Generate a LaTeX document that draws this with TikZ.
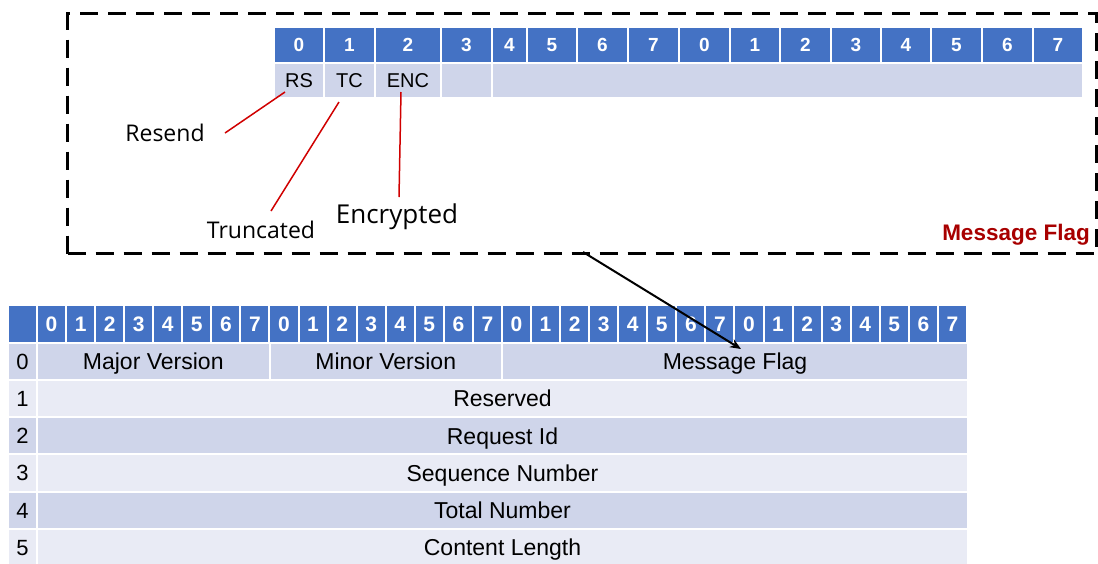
\documentclass[tikz,border=0pt]{standalone}
\usepackage{fontspec}
\setmainfont{Liberation Sans}
\newfontfamily\notefont{Open Sans}
\usetikzlibrary{arrows.meta}

\definecolor{hdrblue}{HTML}{4472C4}
\definecolor{rowdark}{HTML}{CFD5EA}
\definecolor{rowlight}{HTML}{E9EBF5}
\definecolor{pinred}{HTML}{D00000}
\definecolor{titlered}{HTML}{A80000}

% cells keep the capitals centred: text height = cap height of the cell font
\tikzset{
  cell/.style={draw=white, line width=2pt, anchor=north west,
               inner sep=0pt, outer sep=0pt, text=black, text depth=0pt},
  tophead/.style={cell, fill=hdrblue, text=white, text height=13.6pt,
                  font=\bfseries\fontsize{19}{22}\selectfont},
  topbit/.style={cell, fill=rowdark, text height=14.3pt,
                 font=\fontsize{20}{23}\selectfont},
  bothead/.style={cell, fill=hdrblue, text=white, text height=15pt,
                  font=\bfseries\fontsize{21}{24}\selectfont},
  rowidx/.style={cell, text height=15.8pt, font=\fontsize{22}{25}\selectfont},
  field/.style={cell, text height=16.5pt, font=\fontsize{23}{27}\selectfont},
  note/.style={inner sep=0pt, font=\notefont\fontsize{#1}{#1}\selectfont},
  pin/.style={draw=pinred, line width=1.5pt},
  flagframe/.style={draw=black, line width=3pt, dash pattern=on 18pt off 10pt,
                    anchor=north west, inner sep=0pt},
  zoomarrow/.style={draw=black, line width=2pt,
                    -{Stealth[length=11pt,width=9pt]}},
}

\begin{document}
\begin{tikzpicture}[x=1pt,y=-1pt]
\useasboundingbox (0,0) rectangle (1098,563);

% ---------- Message Flag detail ----------
\node[flagframe, minimum width=1029pt, minimum height=240pt] (flagbox) at (66,12) {};
\node[anchor=east, inner sep=0pt, text=titlered,
      font=\bfseries\fontsize{22.5}{26}\selectfont] (flagtitle) at (1090,235) {Message Flag};

% bit numbers of the flag field
\foreach \xa/\xb/\lab [count=\i from 0] in
  {274/324/0,324/375/1,375/441/2,441/492/3,492/527/4,527/577/5,577/628/6,628/679/7,
   679/730/0,730/780/1,780/831/2,831/881/3,881/931/4,931/982/5,982/1033/6,1033/1083/7}
{
  \pgfmathsetmacro\w{\xb-\xa}
  \node[tophead, minimum width=\w pt, minimum height=35.5pt] (th\i) at (\xa,27) {\lab};
}

% flag bits
\node[topbit, minimum width=50pt, minimum height=35.5pt] (rs)  at (274,62.5) {RS};
\node[topbit, minimum width=51pt, minimum height=35.5pt] (tc)  at (324,62.5) {TC};
\node[topbit, minimum width=66pt, minimum height=35.5pt] (enc) at (375,62.5) {ENC};
\node[topbit, minimum width=51pt, minimum height=35.5pt] (bit3) at (441,62.5) {};
\node[topbit, minimum width=591pt, minimum height=35.5pt] (bitrest) at (492,62.5) {};

% bit descriptions
\node[note=23] (resend)    at (165,133) {Resend};
\node[note=23] (truncated) at (261,230) {Truncated};
\node[note=26] (encrypted) at (397,217) {Encrypted};

\coordinate (rsPin)  at (285,92);
\coordinate (rsEnd)  at (225,133);
\coordinate (tcPin)  at (339,102);
\coordinate (tcEnd)  at (271,211);
\coordinate (encPin) at (401,92);
\coordinate (encEnd) at (399,197);
\draw[pin] (rsPin) -- (rsEnd);
\draw[pin] (tcPin) -- (tcEnd);
\draw[pin] (encPin) -- (encEnd);

% ---------- Header layout ----------
\node[bothead, minimum width=29pt, minimum height=37.5pt] (bhidx) at (8,305) {};
\foreach \i in {0,...,31}
{
  \pgfmathtruncatemacro\lab{mod(\i,8)}
  \pgfmathsetmacro\xx{37+29.06*\i}
  \node[bothead, minimum width=29.06pt, minimum height=37.5pt] (bh\i) at (\xx,305) {\lab};
}

% row 0
\node[rowidx, fill=rowdark, minimum width=29pt, minimum height=37.3pt] (idx0) at (8,342.5) {0};
\node[field, fill=rowdark, minimum width=232.5pt, minimum height=37.3pt] (major) at (37,342.5) {Major Version};
\node[field, fill=rowdark, minimum width=232.5pt, minimum height=37.3pt] (minor) at (269.5,342.5) {Minor Version};
\node[field, fill=rowdark, minimum width=466pt, minimum height=37.3pt] (msgflag) at (502,342.5) {Message Flag};

% rows 1 to 5
\foreach \r/\name/\txt/\col in
  {1/reserved/Reserved/rowlight,
   2/requestid/Request Id/rowdark,
   3/seqnum/Sequence Number/rowlight,
   4/totalnum/Total Number/rowdark,
   5/contentlen/Content Length/rowlight}
{
  \pgfmathsetmacro\yy{342.5+37.3*\r}
  \node[rowidx, fill=\col, minimum width=29pt, minimum height=37.3pt] (idx\r) at (8,\yy) {\r};
  \node[field, fill=\col, minimum width=931pt, minimum height=37.3pt] (\name) at (37,\yy) {\txt};
}

% link from the detail box to the field
\coordinate (zoomStart) at (583,252);
\coordinate (zoomEnd)   at (741,349);
\draw[zoomarrow] (zoomStart) -- (zoomEnd);

\end{tikzpicture}
\end{document}
